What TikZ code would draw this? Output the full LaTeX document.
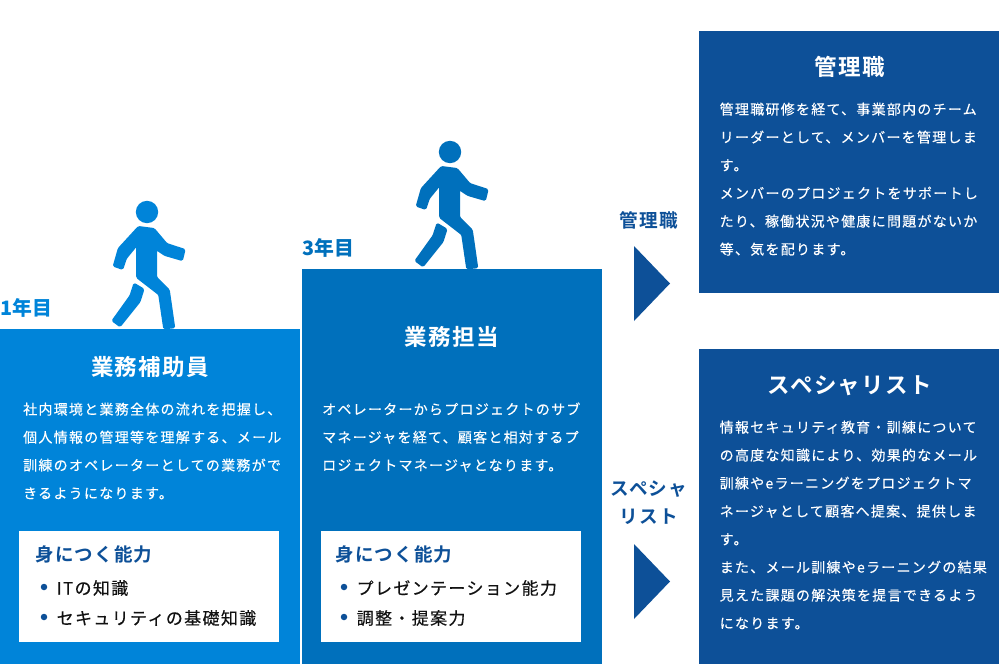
\documentclass[tikz,border=0pt]{standalone}
\usepackage{fontspec}
\setmainfont{Noto Sans CJK JP}
\newfontfamily\bodyf[LetterSpace=9,FakeBold=0.3]{Noto Sans CJK JP}
\newfontfamily\listf[LetterSpace=8,FakeBold=0.3]{Noto Sans CJK JP}
\newfontfamily\headf[LetterSpace=6,BoldFont={Noto Sans CJK JP Bold}]{Noto Sans CJK JP}
\definecolor{cA}{HTML}{0084D9}
\definecolor{cB}{HTML}{0070BC}
\definecolor{cC}{HTML}{0D5098}
\definecolor{cK}{HTML}{111111}
\tikzset{
  bodyline/.style={anchor=base west,inner sep=0,text=white,font=\bodyf\fontsize{14}{16}\selectfont},
  paneltitle/.style={anchor=base,inner sep=0,text=white,font=\headf\bfseries\fontsize{22.5}{26}\selectfont},
  skillhead/.style={anchor=base west,inner sep=0,text=cC,font=\headf\bfseries\fontsize{18.5}{22}\selectfont},
  skillitem/.style={anchor=base west,inner sep=0,text=cK,font=\listf\fontsize{17}{20}\selectfont},
  bulletdot/.style={circle,fill=cC,inner sep=0,minimum size=6.5pt},
  yearlabel/.style={anchor=base west,inner sep=0,font=\bfseries\fontsize{19.8}{22}\selectfont},
  sidelabel/.style={anchor=base,inner sep=0,text=cC,font=\headf\bfseries\fontsize{18.6}{22}\selectfont},
  walker/.pic={
    \fill (147,212) circle (11.2);
    \filldraw[line width=1.6pt,line join=round,rounded corners=1.2pt] (138.5,226.8) -- (154,228.8) -- (166.7,243.8) -- (184.7,249.7) -- (182.2,260.2) -- (165,255.2) -- (156.4,249.5) -- (156.4,277.5) -- (169,290) -- (174.4,327.5) -- (164,328.5) -- (159,294.5) -- (137,277.5) -- (137,245) -- (126,258.5) -- (122.5,269) -- (113.6,266) -- (118.6,248.5) -- cycle;
    \filldraw[line width=1.6pt,line join=round,rounded corners=1.2pt] (134.2,283.6) -- (143.6,289.3) -- (139.7,301.7) -- (120,326.3) -- (112.4,320.7) -- (130.3,295.7) -- cycle;
  }
}
\begin{document}
\begin{tikzpicture}[x=1pt,y=-1pt]
\useasboundingbox (0,0) rectangle (999,664);
% panels
\fill[cA] (0,329) rectangle (300,664);
\fill[cB] (302,269) rectangle (602,664);
\fill[cC] (699,31) rectangle (999,293);
\fill[cC] (699,349) rectangle (999,664);
\fill[white] (19,531) rectangle (279,642);
\fill[white] (321,531) rectangle (581,642);
\fill[cC] (634,246) -- (670,283.5) -- (634,321) -- cycle;
\fill[cC] (634,544) -- (670,581.5) -- (634,619) -- cycle;
% walkers
\pic[fill=cA,color=cA] {walker};
\pic[fill=cB,color=cB,shift={(303,-60)}] {walker};
% year labels
\node[yearlabel,text=cA] (y1) at (0,315) {1年目};
\node[yearlabel,text=cB] (y3) at (302,255) {3年目};
% titles
\node[paneltitle] (t1) at (150,375) {業務補助員};
\node[paneltitle] (t2) at (452,345) {業務担当};
\node[paneltitle] (t3) at (850,75) {管理職};
\node[paneltitle] (t4) at (850,393) {スペシャリスト};
% side labels
\node[sidelabel] (s1) at (649,227) {管理職};
\node[sidelabel] (s2) at (649,495) {スペシャ};
\node[sidelabel] (s3) at (649,523) {リスト};
% box 1 body
\node[bodyline] (a1) at (23,414.5) {社内環境と業務全体の流れを把握し、};
\node[bodyline] (a2) at (23,442.5) {個人情報の管理等を理解する、メール};
\node[bodyline] (a3) at (23,470.5) {訓練のオペレーターとしての業務がで};
\node[bodyline] (a4) at (23,498.5) {きるようになります。};
% box 2 body
\node[bodyline] (b1) at (322,414.5) {オペレーターからプロジェクトのサブ};
\node[bodyline] (b2) at (322,442.5) {マネージャを経て、顧客と相対するプ};
\node[bodyline] (b3) at (322,470.5) {ロジェクトマネージャとなります。};
% top right body
\node[bodyline] (c1) at (719.5,114.5) {管理職研修を経て、事業部内のチーム};
\node[bodyline] (c2) at (719.5,142.5) {リーダーとして、メンバーを管理しま};
\node[bodyline] (c3) at (719.5,170.5) {す。};
\node[bodyline] (c4) at (719.5,198.5) {メンバーのプロジェクトをサポートし};
\node[bodyline] (c5) at (719.5,226.5) {たり、稼働状況や健康に問題がないか};
\node[bodyline] (c6) at (719.5,254.5) {等、気を配ります。};
% bottom right body
\node[bodyline] (d1) at (719.5,432.5) {情報セキュリティ教育・訓練について};
\node[bodyline] (d2) at (719.5,460.5) {の高度な知識により、効果的なメール};
\node[bodyline] (d3) at (719.5,488.5) {訓練やeラーニングをプロジェクトマ};
\node[bodyline] (d4) at (719.5,516.5) {ネージャとして顧客へ提案、提供しま};
\node[bodyline] (d5) at (719.5,544.5) {す。};
\node[bodyline] (d6) at (719.5,572.5) {また、メール訓練やeラーニングの結果};
\node[bodyline] (d7) at (719.5,600.5) {見えた課題の解決策を提言できるよう};
\node[bodyline] (d8) at (719.5,628.5) {になります。};
% skill boxes
\node[skillhead] (h1) at (35.5,561) {身につく能力};
\node[bulletdot] (p1) at (44,587) {};
\node[skillitem] (i1) at (56.5,594.5) {ITの知識};
\node[bulletdot] (p2) at (44,617) {};
\node[skillitem] (i2) at (56.5,624.5) {セキュリティの基礎知識};
\node[skillhead] (h2) at (335.5,561) {身につく能力};
\node[bulletdot] (p3) at (344,587) {};
\node[skillitem] (i3) at (356.5,594.5) {プレゼンテーション能力};
\node[bulletdot] (p4) at (344,617) {};
\node[skillitem] (i4) at (356.5,624.5) {調整・提案力};
\end{tikzpicture}
\end{document}
